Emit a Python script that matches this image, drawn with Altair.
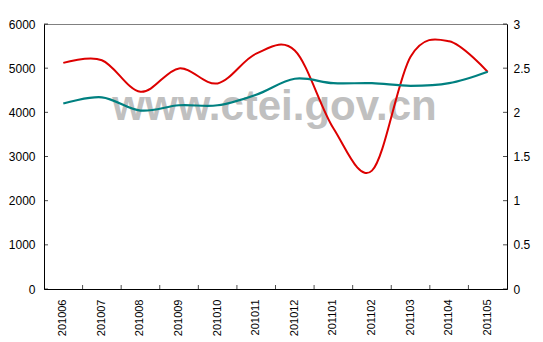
import altair as alt
import pandas as pd

months = ["201006", "201007", "201008", "201009", "201010", "201011",
          "201012", "201101", "201102", "201103", "201104", "201105"]
red_values = [5120, 5180, 4465, 4995, 4655, 5330, 5400, 3640, 2680, 5260, 5610, 4915]
teal_values = [2.10, 2.17, 2.02, 2.08, 2.08, 2.20, 2.38, 2.33, 2.33, 2.30, 2.33, 2.46]
left_ticks = [0, 1000, 2000, 3000, 4000, 5000, 6000]
right_ticks = [0, 0.5, 1, 1.5, 2, 2.5, 3]
watermark = "www.ctei.gov.cn"

W, H = 463, 265

df = pd.DataFrame({"month": months, "red": red_values, "teal": teal_values})
df_lt = pd.DataFrame({"v": left_ticks})
df_rt = pd.DataFrame({"v": right_ticks})
df_bt = pd.DataFrame({"month": months[1:]})
df_wm = pd.DataFrame({"t": [watermark]})

xscale = alt.Scale(domain=months, paddingInner=0, paddingOuter=0)
xaxis = alt.Axis(title=None, labelAngle=-90, labelAlign="right", labelBaseline="middle",
                 labelFont="Liberation Sans", labelFontSize=11, labelColor="black",
                 labelPadding=10, ticks=False, domainColor="black", grid=False)

lscale = alt.Scale(domain=[0, 6000], nice=False, zero=True)
rscale = alt.Scale(domain=[0, 3], nice=False, zero=True)

laxis = alt.Axis(title=None, values=left_ticks, ticks=False, grid=False, domainColor="black",
                 labelFont="Liberation Sans", labelFontSize=12, labelColor="black",
                 labelPadding=9, orient="left", format="d")
raxis = alt.Axis(title=None, values=right_ticks, ticks=False, grid=False, domainColor="black",
                 labelFont="Liberation Sans", labelFontSize=12, labelColor="black",
                 labelPadding=6, orient="right", labelExpr="datum.value")

wm = alt.Chart(df_wm).mark_text(
    font="Liberation Sans", fontWeight="bold", fontSize=42, color="#c0c0c0",
    align="center", baseline="alphabetic"
).encode(text="t:N", x=alt.value(W / 2 - 1), y=alt.value(96))

red = alt.Chart(df).mark_line(color="#dd0000", strokeWidth=2, interpolate="cardinal").encode(
    x=alt.X("month:N", scale=xscale, axis=xaxis, bandPosition=0.5),
    y=alt.Y("red:Q", scale=lscale, axis=laxis),
)

teal = alt.Chart(df).mark_line(color="#008080", strokeWidth=2.2, interpolate="cardinal").encode(
    x=alt.X("month:N", scale=xscale, axis=xaxis, bandPosition=0.5),
    y=alt.Y("teal:Q", scale=rscale, axis=raxis),
)

lt = alt.Chart(df_lt).mark_tick(orient="horizontal", color="black", thickness=1, size=4).encode(
    y=alt.Y("v:Q", scale=lscale, axis=None), x=alt.value(2)
)
rt = alt.Chart(df_rt).mark_tick(orient="horizontal", color="black", thickness=1, size=4).encode(
    y=alt.Y("v:Q", scale=rscale, axis=None), x=alt.value(W - 2)
)
bt = alt.Chart(df_bt).mark_tick(orient="vertical", color="black", thickness=1, size=4).encode(
    x=alt.X("month:N", scale=xscale, axis=xaxis, bandPosition=0), y=alt.value(H - 2)
)

chart = alt.layer(wm, red, lt, bt, teal, rt).resolve_scale(y="independent").properties(
    width=W, height=H,
    autosize=alt.AutoSizeParams(type="none"),
    padding={"left": 44, "top": 24, "right": 36, "bottom": 53},
    background="white",
).configure_view(stroke="#808080", strokeWidth=1)

chart.save("out.html", embed_options={"renderer": "svg", "actions": False})
